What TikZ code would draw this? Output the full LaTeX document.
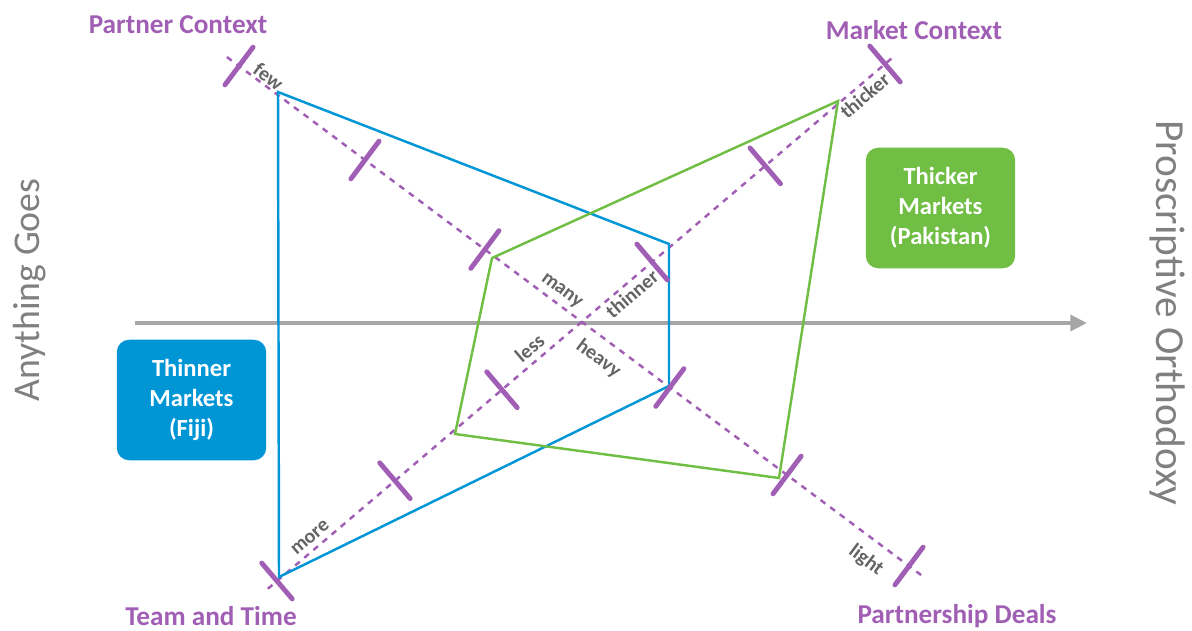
\documentclass[tikz,border=0pt]{standalone}
\usepackage{fontspec}
\setmainfont{Carlito}
\usetikzlibrary{calc}
\usetikzlibrary{arrows.meta}
\definecolor{ctxpurple}{RGB}{160,95,180}
\definecolor{labelgray}{RGB}{100,100,100}
\definecolor{sidegray}{RGB}{128,128,128}
\definecolor{arrowgray}{RGB}{166,166,166}
\definecolor{fijiblue}{RGB}{0,150,214}
\definecolor{pakgreen}{RGB}{112,190,68}
\tikzstyle{ctxaxis} = [draw=ctxpurple, line width=1.4pt, dash pattern=on 3.4pt off 3.4pt]
\tikzstyle{axistick} = [draw=ctxpurple, line width=2.8pt, line cap=round]
\tikzstyle{endlabel} = [text=ctxpurple, font=\bfseries\fontsize{15.5}{17}\selectfont, inner sep=1pt]
\tikzstyle{scalelabel} = [text=labelgray, font=\bfseries\fontsize{11.5}{13}\selectfont, sloped, inner sep=1pt]
\tikzstyle{market} = [rounded corners=7pt, text=white, align=center,
font=\bfseries\fontsize{14}{17}\selectfont, minimum width=85pt, minimum height=68.6pt]

\begin{document}
\begin{tikzpicture}[x=0.02cm, y=-0.02cm,
        sidelabel/.style={text=sidegray, font=\fontsize{21.5}{24}\selectfont},
        marketline/.style={line width=1.4pt, line join=miter}]
        \useasboundingbox (0,0) rectangle (1192,630);
        %% Axes
        \coordinate (AG) at (135,323);
        \coordinate (PO) at (1087,323);
        \coordinate (PC) at (239,66);
        \coordinate (PD) at (909,566);
        \coordinate (TT) at (277,581);
        \coordinate (MC) at (885,64);
        \draw [arrowgray, line width=2.3pt, -{Triangle[length=9.5pt,width=9pt]}] (AG) -- (PO);
        \path [ctxaxis] ($(PC)!-0.018!(PD)$) -- ($(PC)!1.018!(PD)$);
        \path [ctxaxis] ($(TT)!-0.015!(MC)$) -- ($(TT)!1.015!(MC)$);
        %% Markets
        \coordinate (F1) at (278,92);
        \coordinate (F2) at (669,244);
        \coordinate (F3) at (669,386);
        \coordinate (F4) at (279,577);
        \coordinate (P1) at (838,101);
        \coordinate (P2) at (492,258);
        \coordinate (P3) at (455,434);
        \coordinate (P4) at (779,478);
        \draw [marketline, fijiblue] (F1) -- (F2) -- (F3) -- (F4) -- cycle;
        \draw [marketline, pakgreen] (P1) -- (P2) -- (P3) -- (P4) -- cycle;
        %% Ticks
        \foreach \t in {0,0.188,0.367,0.643,0.818,1} {
            \coordinate (T) at ($(PC)!\t!(PD)$);
            \path [axistick] ($(T)+($(PC)!0.47cm!90:(PD)$)-(PC)$) -- ($(T)-($(PC)!0.47cm!90:(PD)$)+(PC)$);
        }
        \foreach \t in {0,0.194,0.370,0.617,0.803,1} {
            \coordinate (T) at ($(TT)!\t!(MC)$);
            \path [axistick] ($(T)+($(TT)!0.47cm!90:(MC)$)-(TT)$) -- ($(T)-($(TT)!0.47cm!90:(MC)$)+(TT)$);
        }
        %% Scale labels
        \path (PC) -- node [scalelabel, pos=0.036, above] (Few) {few}
            node [scalelabel, pos=0.47, above=2pt] (Many) {many}
            node [scalelabel, pos=0.554, below=5pt] (Heavy) {heavy}
            node [scalelabel, pos=0.955, below=6pt] (Light) {light} (PD);
        \path (TT) -- node [scalelabel, pos=0.067, above=2.5pt] (More) {more}
            node [scalelabel, pos=0.43, above=2.5pt] (Less) {less}
            node [scalelabel, pos=0.572, below=1pt] (Thinner) {thinner}
            node [scalelabel, pos=0.955, below=1pt] (Thicker) {thicker} (MC);
        %% Text
        \node [endlabel] at (178,25) (PCText) {Partner Context};
        \node [endlabel] at (914,30) (MCText) {Market Context};
        \node [endlabel] at (211,616) (TTText) {Team and Time};
        \node [endlabel] at (957,616) (PDText) {Partnership Deals};
        \node [sidelabel, rotate=90] at (30,290) (AGText) {Anything Goes};
        \node [sidelabel, rotate=-90, font=\fontsize{23.5}{26}\selectfont] at (1167,313) (POText) {Proscriptive Orthodoxy};
        \node [market, fill=fijiblue] at (191.5,400) (Fiji) {Thinner\\Markets\\(Fiji)};
        \node [market, fill=pakgreen] at (940.5,208) (Pakistan) {Thicker\\Markets\\(Pakistan)};
    \end{tikzpicture}
\end{document}
